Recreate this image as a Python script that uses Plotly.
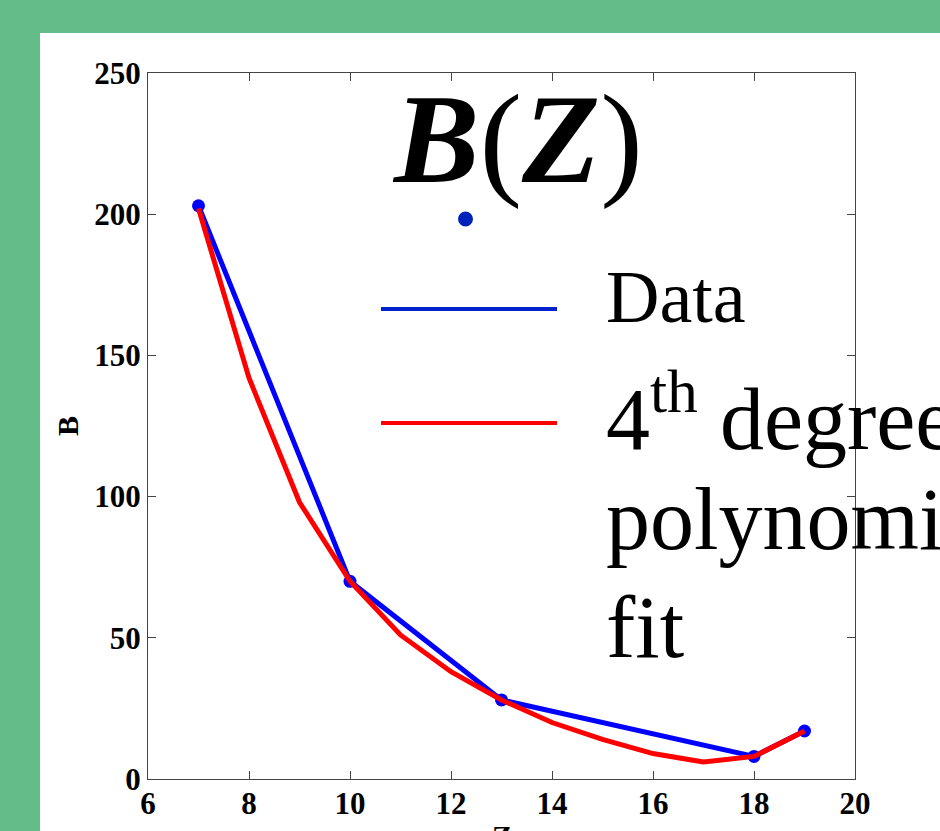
import plotly.graph_objects as go

# Data
z_data = [7, 10, 13, 18, 19]
b_data = [203, 70, 28, 8, 17]

z_fit = [7, 8, 9, 10, 11, 12, 13, 14, 15, 16, 17, 18, 19]
b_fit = [202, 142, 98, 70, 51, 38, 28, 20, 14, 9, 6, 8, 17]

x_ticks = [6, 8, 10, 12, 14, 16, 18, 20]
y_ticks = [0, 50, 100, 150, 200, 250]

W, H = 940, 831
L, R, T, B = 148, 85, 73, 52
PW, PH = W - L - R, H - T - B


def px(xp):
    return (xp - L) / PW


def py(yp):
    return (H - B - yp) / PH


SERIF = "Liberation Serif"
GREEN = "#64BC88"

fig = go.Figure()
fig.add_trace(go.Scatter(x=z_data, y=b_data, mode="lines+markers",
                         line=dict(color="#0000FF", width=5),
                         marker=dict(color="#0000FF", size=13),
                         showlegend=False))
fig.add_trace(go.Scatter(x=z_fit, y=b_fit, mode="lines",
                         line=dict(color="#FF0000", width=5),
                         showlegend=False))

axis_common = dict(showgrid=False, zeroline=False, showline=True,
                   linecolor="#444444", linewidth=1.3, mirror="allticks",
                   ticks="inside", ticklen=8, tickwidth=1.3, tickcolor="#444444",
                   tickfont=dict(family=SERIF, size=31, color="black", weight="bold"))

fig.update_xaxes(range=[6, 20], tickvals=x_ticks, ticktext=[str(v) for v in x_ticks],
                 ticklabelstandoff=-3, **axis_common)
fig.update_yaxes(range=[0, 250], tickvals=y_ticks, ticktext=[str(v) for v in y_ticks],
                 **axis_common)

shapes = [
    dict(type="rect", xref="paper", yref="paper", x0=px(40), x1=px(1000), y0=py(900), y1=py(33),
         fillcolor="white", line=dict(width=0), layer="below"),
    dict(type="line", xref="paper", yref="paper", x0=px(381), x1=px(557), y0=py(309), y1=py(309),
         line=dict(color="#0022CC", width=4)),
    dict(type="line", xref="paper", yref="paper", x0=px(381), x1=px(557), y0=py(423), y1=py(423),
         line=dict(color="#FF0000", width=4)),
    dict(type="circle", xref="paper", yref="paper", x0=px(458), x1=px(473), y0=py(211.5), y1=py(226.5),
         fillcolor="#0022BB", line=dict(width=0)),
]

annotations = [
    # axis titles
    dict(text="<b>Z</b>", x=0.5, y=py(817), xref="paper", yref="paper",
         xanchor="center", yanchor="top", showarrow=False,
         font=dict(family=SERIF, size=30, color="black")),
    dict(text="<b>B</b>", x=px(67), y=0.5, xref="paper", yref="paper",
         xanchor="center", yanchor="middle", showarrow=False, textangle=-90,
         font=dict(family=SERIF, size=30, color="black")),
    # chart title
    dict(text="<b><i>B</i></b>(<b><i>Z</i></b>)", x=px(390), y=py(139), xref="paper", yref="paper",
         xanchor="left", yanchor="middle", showarrow=False,
         font=dict(family=SERIF, size=128, color="black")),
    # legend texts
    dict(text="Data", x=px(604), y=py(297), xref="paper", yref="paper",
         xanchor="left", yanchor="middle", showarrow=False,
         font=dict(family=SERIF, size=74, color="black")),
    dict(text="4<sup>th</sup> degree", x=px(604), y=py(413),
         xref="paper", yref="paper", xanchor="left", yanchor="middle", showarrow=False,
         font=dict(family=SERIF, size=88, color="black")),
    dict(text="polynomial", x=px(604), y=py(519), xref="paper", yref="paper",
         xanchor="left", yanchor="middle", showarrow=False,
         font=dict(family=SERIF, size=88, color="black")),
    dict(text="fit", x=px(604), y=py(627), xref="paper", yref="paper",
         xanchor="left", yanchor="middle", showarrow=False,
         font=dict(family=SERIF, size=88, color="black")),
]

fig.update_layout(width=W, height=H, margin=dict(l=L, r=R, t=T, b=B, autoexpand=False),
                  paper_bgcolor=GREEN, plot_bgcolor="white",
                  shapes=shapes, annotations=annotations, showlegend=False)

fig.write_html("out.html", config={"displayModeBar": False},
               post_script="document.body.style.margin='0';"
                           "document.body.style.overflow='hidden';")
